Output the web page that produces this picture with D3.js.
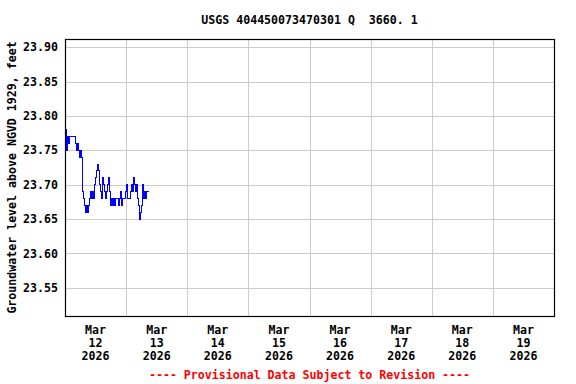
<!DOCTYPE html>
<html>
<head>
<meta charset="utf-8">
<script src="https://cdn.jsdelivr.net/npm/d3@7"></script>
<style>
  body { margin: 0; background: #fff; }
  text { font-family: "DejaVu Sans Mono", monospace; font-weight: bold; font-size: 11.6px; }
</style>
</head>
<body>
<div id="chart"></div>
<script>
const title = "USGS 404450073470301 Q  3660. 1";
const yLabel = "Groundwater level above NGVD 1929, feet";
const footer = "---- Provisional Data Subject to Revision ----";

const yTicks = [23.55, 23.60, 23.65, 23.70, 23.75, 23.80, 23.85, 23.90];
const days = [12, 13, 14, 15, 16, 17, 18, 19];

// readings, first at Mar 12 00:15, one every ~23.5 minutes
const startTime = new Date(2026, 2, 12, 0, 15);
const stepMinutes = 23.5;
const levels = [
  23.78, 23.75, 23.77, 23.76, 23.77, 23.77, 23.77, 23.77, 23.77, 23.77,
  23.76, 23.75, 23.76, 23.75, 23.74, 23.75, 23.74, 23.69, 23.68, 23.67,
  23.66, 23.67, 23.66, 23.67, 23.68, 23.69, 23.68, 23.69, 23.68, 23.70,
  23.71, 23.72, 23.73, 23.72, 23.70, 23.69, 23.68, 23.71, 23.70, 23.69,
  23.68, 23.69, 23.70, 23.71, 23.69, 23.67, 23.68, 23.67, 23.68, 23.67,
  23.68, 23.68, 23.68, 23.67, 23.68, 23.69, 23.67, 23.68, 23.68, 23.68,
  23.69, 23.70, 23.68, 23.68, 23.68, 23.69, 23.70, 23.69, 23.71, 23.70,
  23.69, 23.70, 23.68, 23.67, 23.65, 23.66, 23.67, 23.70, 23.68, 23.69,
  23.68, 23.69, 23.69, 23.69, 23.69
];

const width = 576, height = 384;
const plot = { left: 65, top: 39, right: 554, bottom: 316 };

const svg = d3.select("#chart").append("svg")
  .attr("width", width)
  .attr("height", height);

const x = d3.scaleTime()
  .domain([new Date(2026, 2, 12), new Date(2026, 2, 20)])
  .range([plot.left, plot.right]);

const y = d3.scaleLinear()
  .domain([23.509, 23.912])
  .range([plot.bottom, plot.top]);

// grid
const dayLines = d3.timeDay.range(new Date(2026, 2, 13), new Date(2026, 2, 20));
svg.append("g").selectAll("line")
  .data(dayLines)
  .join("line")
  .attr("x1", d => Math.round(x(d)) + 0.5)
  .attr("x2", d => Math.round(x(d)) + 0.5)
  .attr("y1", plot.top)
  .attr("y2", plot.bottom)
  .attr("stroke", "#cccccc");

svg.append("g").selectAll("line")
  .data(yTicks)
  .join("line")
  .attr("x1", plot.left)
  .attr("x2", plot.right)
  .attr("y1", d => Math.round(y(d)) + 0.5)
  .attr("y2", d => Math.round(y(d)) + 0.5)
  .attr("stroke", "#cccccc");

// data
const data = levels.map((v, i) => ({
  t: new Date(startTime.getTime() + i * stepMinutes * 60000),
  v
}));

svg.append("path")
  .datum(data)
  .attr("fill", "none")
  .attr("stroke", "#0000ff")
  .attr("stroke-width", 1)
  .attr("shape-rendering", "crispEdges")
  .attr("d", d3.line().curve(d3.curveStepAfter).x(d => x(d.t)).y(d => y(d.v)));

// frame
svg.append("rect")
  .attr("x", plot.left + 0.5)
  .attr("y", plot.top + 0.5)
  .attr("width", plot.right - plot.left)
  .attr("height", plot.bottom - plot.top)
  .attr("fill", "none")
  .attr("stroke", "#000")
  .attr("stroke-width", 1.2);

// y tick labels
svg.append("g").selectAll("text")
  .data(yTicks)
  .join("text")
  .attr("x", plot.left - 7)
  .attr("y", d => y(d))
  .attr("dy", "0.35em")
  .attr("text-anchor", "end")
  .text(d => d3.format(".2f")(d));

// x tick labels at noon
const xl = svg.append("g").selectAll("text")
  .data(days)
  .join("text")
  .attr("text-anchor", "middle")
  .attr("transform", d => `translate(${x(new Date(2026, 2, d, 12))},0)`);
xl.append("tspan").attr("x", 0).attr("y", 334).text("Mar");
xl.append("tspan").attr("x", 0).attr("y", 347).text(d => d);
xl.append("tspan").attr("x", 0).attr("y", 360).text("2026");

svg.append("text")
  .attr("x", (plot.left + plot.right) / 2)
  .attr("y", 24)
  .attr("text-anchor", "middle")
  .style("white-space", "pre")
  .text(title);

svg.append("text")
  .attr("transform", `translate(16, ${(plot.top + plot.bottom) / 2}) rotate(-90)`)
  .attr("text-anchor", "middle")
  .text(yLabel);

svg.append("text")
  .attr("x", (plot.left + plot.right) / 2)
  .attr("y", 379)
  .attr("text-anchor", "middle")
  .attr("fill", "#ff0000")
  .style("white-space", "pre")
  .text(footer);
</script>
</body>
</html>
